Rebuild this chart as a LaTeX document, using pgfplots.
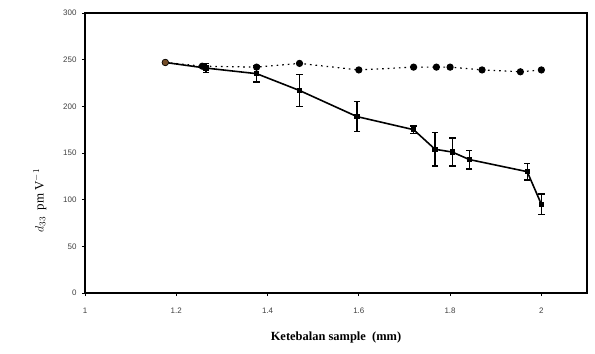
\documentclass[border=0pt]{standalone}
\usepackage{pgfplots}
\pgfplotsset{compat=1.18}
\usepackage{fontspec}
\setmainfont{Liberation Serif}
\newfontfamily\tickfont{Liberation Sans}
\begin{document}
\begin{tikzpicture}[x=1bp,y=1bp]
\path[use as bounding box] (-85,-60) rectangle (510,293);
\begin{axis}[
  at={(0,0)}, anchor=south west,
  scale only axis, width=502bp, height=280bp,
  xmin=1, xmax=2.1, ymin=0, ymax=300,
  xtick={1,1.2,1.4,1.6,1.8,2},
  xticklabels={1,1.2,1.4,1.6,1.8,2},
  ytick={0,50,100,150,200,250,300},
  xtick pos=left, ytick pos=left,
  tick align=outside, major tick length=3bp,
  tick style={black, line width=1pt},
  axis line style={line width=1.3pt},
  /pgf/number format/assume math mode=true,
  tick label style={font=\tickfont\fontsize{8}{9}\selectfont, color=black!75},
  xticklabel style={yshift=-8bp},
  yticklabel style={xshift=-2bp},
  xlabel={\bfseries Ketebalan sample\ \ (mm)},
  xlabel style={font=\fontsize{12.5}{14}\selectfont, yshift=-12bp},
  ylabel={$d_{33}$\ \ pm V$^{-1}$},
  ylabel style={font=\fontsize{13}{15}\selectfont, at={(ticklabel cs:0.33)}, yshift=10bp},
]
\addplot[black, line width=1.2pt, dash pattern=on 1.6pt off 4pt, mark=*, mark size=3pt, mark options={solid}]
 coordinates {
 (1.176,247) (1.257,243) (1.376,242) (1.47,246) (1.60,239) (1.72,242)
 (1.77,242) (1.80,242) (1.87,239) (1.954,237) (2.0,239)
 };
\addplot[black, line width=1.6pt, mark=square*, mark size=1.8pt,
  error bars/.cd, y dir=both, y explicit,
  error bar style={line width=1.4pt}, error mark options={rotate=90, mark size=3.2pt, line width=1.4pt}]
 coordinates {
 (1.176,247) +- (0,0)
 (1.265,241) +- (0,5)
 (1.376,235) +- (0,9)
 (1.47,217) +- (0,17)
 (1.596,189) +- (0,16)
 (1.72,175) +- (0,4)
 (1.767,154) +- (0,18)
 (1.805,151) +- (0,15)
 (1.842,143) +- (0,10)
 (1.969,130) +- (0,9)
 (2.0,95) +- (0,11)
 };
\addplot[only marks, mark=*, mark size=3.2pt, fill=brown!60!black, draw=black] coordinates {(1.176,247)};
\end{axis}
\end{tikzpicture}
\end{document}
